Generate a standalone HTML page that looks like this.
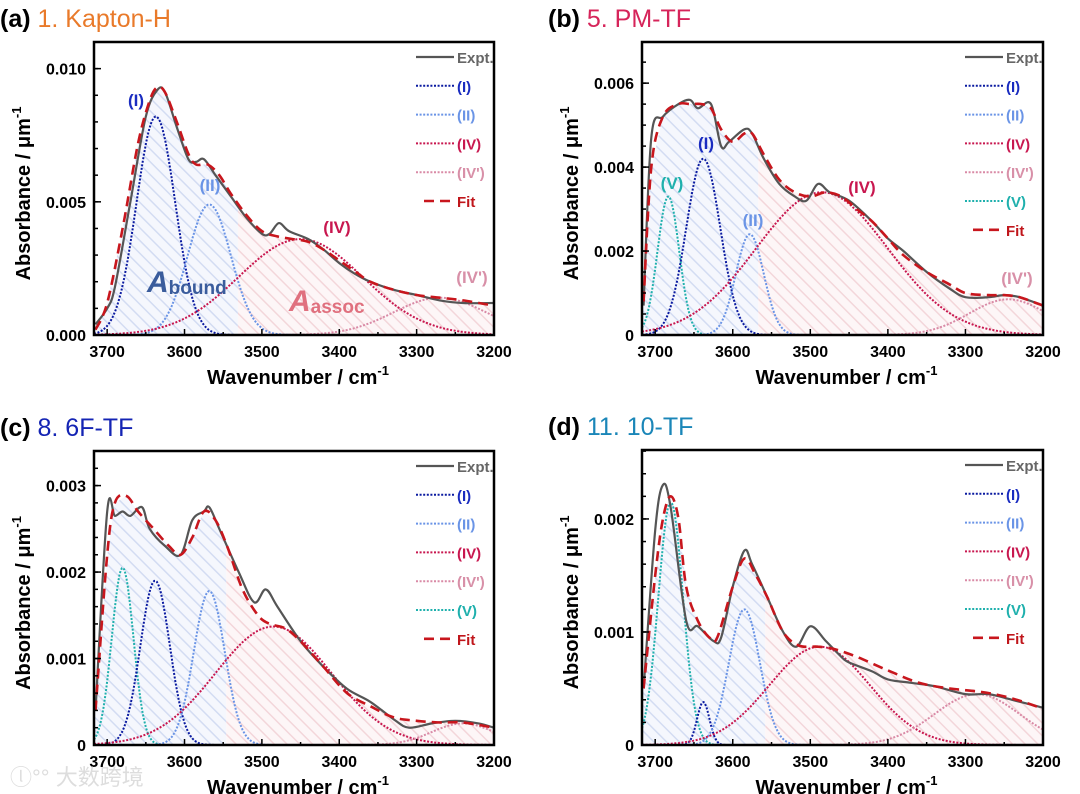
<!DOCTYPE html>
<html><head><meta charset="utf-8"><style>
html,body{margin:0;padding:0;background:#fff;}
svg{display:block;font-family:"Liberation Sans",Arial,sans-serif;}
</style></head><body>
<svg id="fig" width="1080" height="794" viewBox="0 0 1080 794" xmlns="http://www.w3.org/2000/svg">
<defs>
<pattern id="hatchBlue" width="9" height="9" patternUnits="userSpaceOnUse" patternTransform="rotate(-45)">
<rect width="9" height="9" fill="#f5f7fd"/><line x1="0" y1="0" x2="0" y2="9" stroke="#d3dcf2" stroke-width="3"/></pattern>
<pattern id="hatchPink" width="9" height="9" patternUnits="userSpaceOnUse" patternTransform="rotate(-45)">
<rect width="9" height="9" fill="#fdf6f7"/><line x1="0" y1="0" x2="0" y2="9" stroke="#f3d6da" stroke-width="3"/></pattern>
</defs>
</svg>
<script>
// ---------- data ----------
const xTickValues = [3700, 3600, 3500, 3400, 3300, 3200];
const xTickLabels = ["3700", "3600", "3500", "3400", "3300", "3200"];

const aYTicks = [0, 0.005, 0.010];
const aYTickLabels = ["0.000", "0.005", "0.010"];
const aCompNames = ["I", "II", "IV", "IV'"];
const aCenters = [3637, 3568, 3450, 3270];
const aAmps = [0.0082, 0.0049, 0.0036, 0.0014];
const aWidths = [25, 28, 80, 60];
const aExptX = [3715,3700,3690,3670,3650,3635,3625,3610,3595,3585,3575,3560,3540,3520,3500,3490,3478,3465,3440,3420,3400,3380,3360,3330,3300,3270,3240,3200];
const aExptY = [0.0004,0.0010,0.0018,0.0050,0.0082,0.0092,0.0091,0.0078,0.0066,0.0065,0.0066,0.0060,0.0052,0.0044,0.0038,0.0038,0.0042,0.0039,0.0036,0.0032,0.0027,0.0023,0.0020,0.0017,0.0015,0.0013,0.0012,0.0012];
const aFitX = [3715,3700,3680,3660,3645,3635,3625,3610,3595,3585,3570,3555,3540,3520,3500,3480,3460,3440,3420,3400,3380,3360,3330,3300,3270,3240,3200];
const aFitY = [0.0002,0.0012,0.0040,0.0072,0.0088,0.0093,0.0091,0.0080,0.0068,0.0064,0.0064,0.0060,0.0053,0.0045,0.0039,0.0037,0.0036,0.0035,0.0032,0.0028,0.0024,0.0020,0.0017,0.0015,0.0014,0.0013,0.0011];

const bYTicks = [0, 0.002, 0.004, 0.006];
const bYTickLabels = ["0", "0.002", "0.004", "0.006"];
const bCompNames = ["V", "I", "II", "IV", "IV'"];
const bCenters = [3683, 3638, 3578, 3485, 3245];
const bAmps = [0.0033, 0.0042, 0.0024, 0.0034, 0.00085];
const bWidths = [14, 22, 18, 85, 50];
const bExptX = [3715,3705,3690,3670,3655,3645,3628,3615,3605,3585,3575,3560,3540,3520,3505,3490,3475,3450,3420,3400,3380,3350,3320,3300,3270,3250,3230,3200];
const bExptY = [0.0007,0.0047,0.0052,0.0055,0.0056,0.0054,0.0055,0.0045,0.0046,0.0049,0.0048,0.0042,0.0036,0.0033,0.0032,0.0036,0.0034,0.0032,0.0027,0.0023,0.0020,0.0015,0.0011,0.0009,0.0009,0.00095,0.0009,0.0007];
const bFitX = [3715,3705,3690,3670,3655,3640,3628,3615,3600,3585,3575,3560,3540,3520,3500,3480,3460,3440,3420,3400,3380,3350,3320,3300,3270,3250,3230,3200];
const bFitY = [0.0008,0.0040,0.0052,0.0055,0.0055,0.0055,0.0054,0.0049,0.0046,0.0048,0.0048,0.0043,0.0037,0.0034,0.0033,0.0034,0.0033,0.0030,0.0027,0.0023,0.0019,0.0015,0.0012,0.0010,0.00095,0.00095,0.0009,0.0007];

const cYTicks = [0, 0.001, 0.002, 0.003];
const cYTickLabels = ["0", "0.001", "0.002", "0.003"];
const cCompNames = ["V", "I", "II", "IV", "IV'"];
const cCenters = [3680, 3638, 3568, 3485, 3240];
const cAmps = [0.00205, 0.0019, 0.00178, 0.00137, 0.00025];
const cWidths = [14, 19, 20, 75, 40];
const cExptX = [3715,3700,3690,3680,3670,3655,3645,3625,3605,3590,3575,3568,3555,3530,3510,3495,3480,3450,3420,3390,3360,3330,3310,3280,3250,3220,3200];
const cExptY = [0.0004,0.0027,0.00265,0.0027,0.00265,0.00275,0.0025,0.0023,0.0022,0.0026,0.0027,0.00275,0.0025,0.0020,0.00165,0.0018,0.0016,0.0012,0.0009,0.00065,0.0005,0.0003,0.0002,0.00025,0.00028,0.00025,0.0002];
const cFitX = [3715,3700,3690,3675,3660,3640,3620,3605,3590,3575,3560,3545,3525,3505,3490,3470,3450,3420,3390,3360,3330,3300,3270,3240,3200];
const cFitY = [0.0004,0.0022,0.0028,0.00288,0.0027,0.0025,0.0023,0.0022,0.0024,0.0027,0.0026,0.0023,0.0018,0.0015,0.0014,0.00135,0.0012,0.0009,0.0006,0.00045,0.00032,0.00028,0.00026,0.00026,0.0002];

const dYTicks = [0, 0.001, 0.002];
const dYTickLabels = ["0", "0.001", "0.002"];
const dCompNames = ["V", "I", "II", "IV", "IV'"];
const dCenters = [3680, 3638, 3585, 3488, 3285];
const dAmps = [0.00215, 0.00038, 0.0012, 0.00087, 0.00045];
const dWidths = [16, 8, 20, 65, 55];
const dExptX = [3715,3700,3690,3680,3660,3645,3625,3615,3600,3585,3575,3555,3535,3518,3500,3480,3460,3450,3420,3400,3370,3340,3300,3270,3240,3200];
const dExptY = [0.0005,0.0019,0.0023,0.0021,0.0011,0.00105,0.00092,0.00095,0.0014,0.00172,0.0016,0.0013,0.0010,0.00087,0.00105,0.00092,0.00078,0.00073,0.00065,0.00058,0.00055,0.00052,0.00045,0.00045,0.0004,0.00033];
const dFitX = [3715,3700,3690,3680,3670,3660,3645,3630,3620,3600,3585,3570,3555,3535,3515,3490,3470,3440,3400,3360,3320,3280,3250,3220,3200];
const dFitY = [0.0005,0.0015,0.0020,0.0022,0.0020,0.0014,0.0011,0.00095,0.00095,0.0014,0.00165,0.0015,0.0013,0.0010,0.00088,0.00087,0.00085,0.00078,0.00066,0.00055,0.0005,0.00047,0.00043,0.00037,0.00032];

// ---------- layout ----------
const COLORS = {"I":"#0a1aa0","II":"#6a94e6","IV":"#c8174f","IV'":"#d98aa6","V":"#1fb0ad"};
const LABEL_COLORS = {"I":"#1a2cc0","II":"#6a94e6","IV":"#c8174f","IV'":"#d890a8","V":"#1fb0ad"};
const panels = [
 {key:"a", letter:"(a)", title:"1. Kapton-H", tcol:"#e97a2a", x0:94,x1:494,y0:42,y1:335, ymax:0.011, minor:0.001,
  yTicks:aYTicks, yLabels:aYTickLabels, names:aCompNames, centers:aCenters, amps:aAmps, widths:aWidths, ex:aExptX, ey:aExptY, fx:aFitX, fy:aFitY,
  ann:[["I",136,106],["II",210,191],["IV",337,233],["IV'",472,283]]},
 {key:"b", letter:"(b)", title:"5. PM-TF", tcol:"#d6245a", x0:642,x1:1043,y0:42,y1:335, ymax:0.00698, minor:0.0005,
  yTicks:bYTicks, yLabels:bYTickLabels, names:bCompNames, centers:bCenters, amps:bAmps, widths:bWidths, ex:bExptX, ey:bExptY, fx:bFitX, fy:bFitY,
  ann:[["V",672,189],["I",706,149],["II",753,226],["IV",862,193],["IV'",1017,284]]},
 {key:"c", letter:"(c)", title:"8. 6F-TF", tcol:"#1424b4", x0:94,x1:494,y0:451,y1:745, ymax:0.0034, minor:0.0002,
  yTicks:cYTicks, yLabels:cYTickLabels, names:cCompNames, centers:cCenters, amps:cAmps, widths:cWidths, ex:cExptX, ey:cExptY, fx:cFitX, fy:cFitY, ann:[]},
 {key:"d", letter:"(d)", title:"11. 10-TF", tcol:"#1a86b8", x0:642,x1:1043,y0:450,y1:745, ymax:0.00261, minor:0.0002,
  yTicks:dYTicks, yLabels:dYTickLabels, names:dCompNames, centers:dCenters, amps:dAmps, widths:dWidths, ex:dExptX, ey:dExptY, fx:dFitX, fy:dFitY, ann:[]}
];
const XMAX = 3717, XMIN = 3200;
const svg = document.getElementById("fig");
const NS = "http://www.w3.org/2000/svg";
function mk(tag, attrs, parent){const e=document.createElementNS(NS,tag);for(const k in attrs)e.setAttribute(k,attrs[k]);(parent||svg).appendChild(e);return e;}
function gauss(x,c,a,w){return a*Math.exp(-(x-c)*(x-c)/(2*w*w));}
function interp(xa,ya,x){for(let i=0;i<xa.length-1;i++){if(x<=xa[i]&&x>=xa[i+1]){const t=(xa[i]-x)/(xa[i]-xa[i+1]);return ya[i]+t*(ya[i+1]-ya[i]);}}return x>xa[0]?ya[0]:ya[ya.length-1];}
function smoothPath(pts){let d="M"+pts[0][0].toFixed(1)+","+pts[0][1].toFixed(1);
 for(let i=0;i<pts.length-1;i++){const p0=pts[Math.max(0,i-1)],p1=pts[i],p2=pts[i+1],p3=pts[Math.min(pts.length-1,i+2)];
  const c1=[p1[0]+(p2[0]-p0[0])/6,p1[1]+(p2[1]-p0[1])/6],c2=[p2[0]-(p3[0]-p1[0])/6,p2[1]-(p3[1]-p1[1])/6];
  d+=" C"+c1[0].toFixed(1)+","+c1[1].toFixed(1)+" "+c2[0].toFixed(1)+","+c2[1].toFixed(1)+" "+p2[0].toFixed(1)+","+p2[1].toFixed(1);}
 return d;}

panels.forEach(p=>{
 const sx = v => p.x0 + (XMAX - v)/(XMAX - XMIN)*(p.x1-p.x0);
 const sy = v => p.y1 - v/p.ymax*(p.y1-p.y0);
 const g = mk("g",{});
 
 
 const t = mk("text",{x:p.x0-94, y:p.y0-15, "font-size":25},g);
 
 
 const t1 = mk("tspan",{"font-weight":"bold",fill:"#000"},t); t1.textContent = p.letter+" ";
 const t2 = mk("tspan",{fill:p.tcol},t); t2.textContent = p.title;
 const cp = mk("clipPath",{id:"clip"+p.key},g);
 mk("rect",{x:p.x0,y:p.y0,width:p.x1-p.x0,height:p.y1-p.y0},cp);
 const pg = mk("g",{"clip-path":"url(#clip"+p.key+")"},g);
 const xs=[]; for(let x=XMAX;x>=XMIN;x-=1.5) xs.push(x);
 const comps = p.names.map((n,i)=>xs.map(x=>gauss(x,p.centers[i],p.amps[i],p.widths[i])));
 const fit = xs.map(x=>interp(p.fx,p.fy,x));
 const bound = xs.map((x,j)=>p.names.reduce((s,n,i)=>s+((n==="IV"||n==="IV'")?0:comps[i][j]),0));
 const assoc = xs.map((x,j)=>p.names.reduce((s,n,i)=>s+((n==="IV"||n==="IV'")?comps[i][j]:0),0));
 let run=[], runType=null;
 function flush(){ if(run.length>1){ const pts=[[run[0][0],0],...run,[run[run.length-1][0],0]].map(q=>sx(q[0]).toFixed(1)+","+sy(q[1]).toFixed(1)).join(" ");
   const poly=mk("polygon",{points:pts,fill:runType?"url(#hatchBlue)":"url(#hatchPink)"},pg);
   
    } }
 xs.forEach((x,j)=>{const ty=bound[j]>=assoc[j]; if(runType!==null&&ty!==runType){run.push([x,fit[j]]);flush();run=[[x,fit[j]]];} else run.push([x,fit[j]]); runType=ty;});
 flush();
 p.names.forEach((n,i)=>{
  const pl = mk("polyline",{points:xs.map((x,j)=>sx(x).toFixed(1)+","+sy(comps[i][j]).toFixed(1)).join(" "),fill:"none",stroke:COLORS[n],"stroke-width":2,"stroke-dasharray":"2 1.6"},pg);
  
  
 });
 const ex = mk("path",{d:smoothPath(p.ex.map((x,j)=>[sx(x),sy(p.ey[j])])),fill:"none",stroke:"#555","stroke-width":2.2,"stroke-linejoin":"round"},pg);
 
 
 const fl = mk("path",{d:smoothPath(p.fx.map((x,j)=>[sx(x),sy(p.fy[j])])),fill:"none",stroke:"#c8161d","stroke-width":2.6,"stroke-dasharray":"10 6"},pg);
 
 
 const fr = mk("rect",{x:p.x0,y:p.y0,width:p.x1-p.x0,height:p.y1-p.y0,fill:"none",stroke:"#000","stroke-width":2.5},g);
 
 
 for(let v=3700; v>=XMIN; v-=50){ const X=sx(v); mk("line",{x1:X,x2:X,y1:p.y1,y2:p.y1-(v%100===0?6:3),stroke:"#000","stroke-width":1.5},g); }
 xTickValues.forEach((v,i)=>{ const tx=mk("text",{x:sx(v),y:p.y1+22,"font-size":16,"font-weight":"bold","text-anchor":"middle"},g); tx.textContent=xTickLabels[i];
     });
 for(let v=0; v<=p.ymax+1e-12; v+=p.minor){ const Y=sy(v); mk("line",{x1:p.x0,x2:p.x0+4,y1:Y,y2:Y,stroke:"#000","stroke-width":1.5},g); }
 p.yTicks.forEach((v,i)=>{ const Y=sy(v); mk("line",{x1:p.x0,x2:p.x0+7,y1:Y,y2:Y,stroke:"#000","stroke-width":1.5},g);
   const ty=mk("text",{x:p.x0-8,y:Y+6,"font-size":16,"font-weight":"bold","text-anchor":"end"},g); ty.textContent=p.yLabels[i];
     });
 const xt = mk("text",{x:(p.x0+p.x1)/2+4,y:p.y1+49,"font-size":20,"font-weight":"bold","text-anchor":"middle"},g);
 xt.textContent="Wavenumber / cm"; const xs1=mk("tspan",{dy:-9,"font-size":13},xt); xs1.textContent="-1";
  
 const ycx = p.x0-64, ycy=(p.y0+p.y1)/2+5;
 const yt = mk("text",{x:ycx,y:ycy,"font-size":20,"font-weight":"bold","text-anchor":"middle",transform:"rotate(-90 "+ycx+" "+ycy+")"},g);
 yt.textContent="Absorbance / \u03bcm"; const ys1=mk("tspan",{dy:-9,"font-size":13},yt); ys1.textContent="-1";
  
 const entries = ["Expt."].concat(p.names.filter(n=>n!=="V"), p.names.includes("V")?["V"]:[], ["Fit"]);
 entries.forEach((e,k)=>{
  const Y = p.y0+15+k*28.8;
  const lg = mk("g",{},g);
  
  
  let col, txt;
  if(e==="Expt."){ col="#555"; txt="Expt."; mk("line",{x1:p.x1-78,x2:p.x1-40,y1:Y,y2:Y,stroke:"#555","stroke-width":2.2},lg); }
  else if(e==="Fit"){ col="#c0161b"; txt="Fit"; mk("line",{x1:p.x1-70,x2:p.x1-42,y1:Y,y2:Y,stroke:"#c8161d","stroke-width":2.6,"stroke-dasharray":"10 6"},lg); }
  else { col=LABEL_COLORS[e]; txt="("+e+")"; mk("line",{x1:p.x1-78,x2:p.x1-40,y1:Y,y2:Y,stroke:COLORS[e],"stroke-width":2,"stroke-dasharray":"2 1.6"},lg); }
  const lt = mk("text",{x:p.x1-37,y:Y+6,"font-size":15,"font-weight":"bold",fill:e==="Expt."?"#666":col},lg); lt.textContent=txt;
 });
 p.ann.forEach(a=>{ const at=mk("text",{x:a[1],y:a[2],"font-size":17,"font-weight":"bold","text-anchor":"middle",fill:LABEL_COLORS[a[0]]},g);
   at.textContent="("+a[0]+")";   });
});
const ab = mk("text",{x:147,y:292,"font-size":30,"font-weight":"bold","font-style":"italic",fill:"#3a5c9c"});
ab.textContent="A"; const abs=mk("tspan",{"font-size":19,"font-style":"normal",dy:2},ab); abs.textContent="bound";
 
const aa = mk("text",{x:289,y:311,"font-size":30,"font-weight":"bold","font-style":"italic",fill:"#e0707e"});
aa.textContent="A"; const aas=mk("tspan",{"font-size":19,"font-style":"normal",dy:2},aa); aas.textContent="assoc";
 
const wm = mk("text",{x:10,y:785,"font-size":22,fill:"#ddd","font-family":"'Liberation Sans','Noto Sans CJK SC',sans-serif"});
wm.textContent="\u24db\u00b0\u00b0 大数跨境";
 
</script>
</body></html>
